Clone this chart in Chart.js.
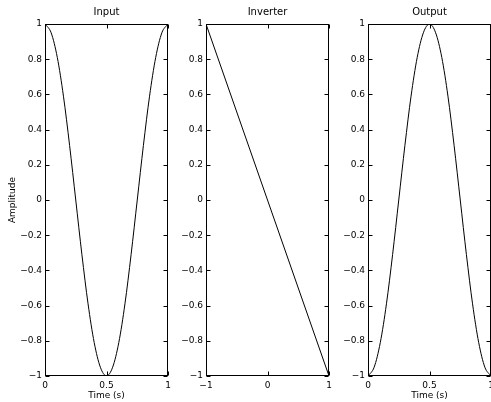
<!DOCTYPE html>
<html>
<head>
<meta charset="utf-8">
<script src="https://cdn.jsdelivr.net/npm/chart.js"></script>
<style>
  html, body { margin: 0; padding: 0; background: #fff; overflow: hidden; }
  #wrap { position: relative; width: 491px; height: 402px; overflow: hidden; }
  .panel { position: absolute; top: 0; }
</style>
</head>
<body>
<div id="wrap">
  <canvas class="panel" id="input-chart" width="178" height="402" style="left:0px"></canvas>
  <canvas class="panel" id="inverter-chart" width="178" height="402" style="left:161px"></canvas>
  <canvas class="panel" id="output-chart" width="178" height="402" style="left:323px"></canvas>
</div>
<script>
// signal samples
const inputTime = [0, 0.05, 0.1, 0.15, 0.2, 0.25, 0.3, 0.35, 0.4, 0.45, 0.5,
                   0.55, 0.6, 0.65, 0.7, 0.75, 0.8, 0.85, 0.9, 0.95, 1];
const inputAmp = [1, 0.95, 0.81, 0.59, 0.31, 0, -0.31, -0.59, -0.81, -0.95, -1,
                  -0.95, -0.81, -0.59, -0.31, 0, 0.31, 0.59, 0.81, 0.95, 1];

// inverter transfer line
const inverterIn = [-1, 1];
const inverterOut = [1, -1];

const outputTime = [0, 0.05, 0.1, 0.15, 0.2, 0.25, 0.3, 0.35, 0.4, 0.45, 0.5,
                    0.55, 0.6, 0.65, 0.7, 0.75, 0.8, 0.85, 0.9, 0.95, 1];
const outputAmp = [-1, -0.95, -0.81, -0.59, -0.31, 0, 0.31, 0.59, 0.81, 0.95, 1,
                   0.95, 0.81, 0.59, 0.31, 0, -0.31, -0.59, -0.81, -0.95, -1];

const titles = ['Input', 'Inverter', 'Output'];
const yLabel = 'Amplitude';
const xLabel = 'Time (s)';

const FONT = '"DejaVu Sans", Verdana, sans-serif';

function fmt(v) {
  const r = Math.round(v * 10) / 10;
  if (r === 0) return '0';
  return r < 0 ? '\u2212' + String(-r) : String(r);
}

// matlab style box with inward ticks on all four sides, title centred over the axes
const boxTicks = {
  id: 'boxTicks',
  afterDraw(chart, args, opts) {
    const { ctx, chartArea: a, scales: { x, y } } = chart;
    const L = Math.round(a.left) + 0.5, R = Math.round(a.right) - 0.5;
    const T = Math.round(a.top) + 0.5, B = Math.round(a.bottom) - 0.5;
    const len = 4;
    ctx.save();
    ctx.strokeStyle = '#000';
    ctx.lineWidth = 1;
    ctx.strokeRect(L, T, R - L, B - T);
    ctx.beginPath();
    x.ticks.forEach(t => {
      const px = Math.round(x.getPixelForValue(t.value)) + 0.5;
      ctx.moveTo(px, B); ctx.lineTo(px, B - len);
      ctx.moveTo(px, T); ctx.lineTo(px, T + len);
    });
    y.ticks.forEach(t => {
      const py = Math.round(y.getPixelForValue(t.value)) + 0.5;
      ctx.moveTo(L, py); ctx.lineTo(L + len, py);
      ctx.moveTo(R, py); ctx.lineTo(R - len, py);
    });
    ctx.stroke();

    if (opts.title) {
      ctx.fillStyle = '#000';
      ctx.font = '10px ' + FONT;
      ctx.textAlign = 'center';
      ctx.textBaseline = 'alphabetic';
      ctx.fillText(opts.title, (a.left + a.right) / 2, 14.5);
    }
    ctx.restore();
  }
};

function makeChart(id, xs, ys, o) {
  return new Chart(document.getElementById(id), {
    type: 'line',
    data: {
      datasets: [{
        data: xs.map((x, i) => ({ x: x, y: ys[i] })),
        borderColor: '#000',
        borderWidth: 1,
        pointRadius: 0,
        fill: false,
        cubicInterpolationMode: 'monotone'
      }]
    },
    options: {
      responsive: false,
      animation: false,
      devicePixelRatio: 1,
      layout: { padding: { left: 0, right: 10, top: 24, bottom: 0 } },
      plugins: {
        legend: { display: false },
        tooltip: { enabled: false },
        title: { display: false },
        boxTicks: { title: o.title }
      },
      scales: {
        x: {
          type: 'linear',
          min: o.xMin,
          max: o.xMax,
          grid: { display: false, drawTicks: false },
          border: { display: false },
          ticks: {
            stepSize: o.xStep,
            autoSkip: false,
            maxRotation: 0,
            padding: 4,
            color: '#000',
            font: { family: FONT, size: 9 },
            callback: v => fmt(v)
          },
          title: {
            display: !!o.xTitle,
            text: o.xTitle || '',
            color: '#000',
            font: { family: FONT, size: 9 },
            padding: { top: 0, bottom: 1 }
          },
          afterFit(s) { s.height = 26; }
        },
        y: {
          min: -1,
          max: 1,
          grid: { display: false, drawTicks: false },
          border: { display: false },
          ticks: {
            stepSize: 0.2,
            autoSkip: false,
            padding: 3,
            color: '#000',
            font: { family: FONT, size: 9 },
            callback: v => fmt(v)
          },
          title: {
            display: !!o.yTitle,
            text: o.yTitle || '',
            color: '#000',
            font: { family: FONT, size: 9 },
            padding: { top: 7, bottom: 0 }
          },
          afterFit(s) { s.width = 45; }
        }
      }
    },
    plugins: [boxTicks]
  });
}

makeChart('input-chart', inputTime, inputAmp,
  { title: titles[0], xMin: 0, xMax: 1, xStep: 0.5, xTitle: xLabel, yTitle: yLabel });
makeChart('inverter-chart', inverterIn, inverterOut,
  { title: titles[1], xMin: -1, xMax: 1, xStep: 1 });
makeChart('output-chart', outputTime, outputAmp,
  { title: titles[2], xMin: 0, xMax: 1, xStep: 0.5, xTitle: xLabel });
</script>
</body>
</html>
